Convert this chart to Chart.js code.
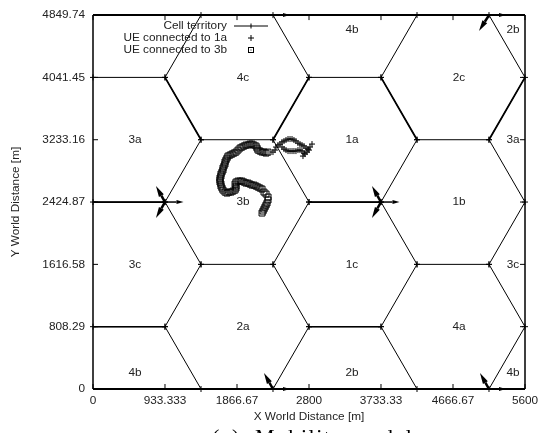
<!DOCTYPE html>
<html>
<head>
<meta charset="utf-8">
<title>Mobility model</title>
<script src="https://cdn.jsdelivr.net/npm/chart.js@4"></script>
<style>
html, body { margin: 0; padding: 0; background: #fff; overflow: hidden; }
</style>
</head>
<body>
<canvas id="chart" width="539" height="433"></canvas>
<script>
const xTicks = [0, 933.333, 1866.67, 2800, 3733.33, 4666.67, 5600];
const yTicks = [0, 808.29, 1616.58, 2424.87, 3233.16, 4041.45, 4849.74];

// cell borders, null breaks the line
const cellX = [
    0, 933.33, null, 2800, 3733.33, null,
    1400, 2333.33, null, 4200, 5133.33, null,
    0, 933.33, null, 2800, 3733.33, null,
    1400, 2333.33, null, 4200, 5133.33, null,
    0, 933.33, null, 2800, 3733.33, null,
    1400, 933.33, 1400, 933.33, 1400, 933.33, 1400, null,
    2333.33, 2800, 2333.33, 2800, 2333.33, 2800, 2333.33, null,
    4200, 3733.33, 4200, 3733.33, 4200, 3733.33, 4200, null,
    5133.33, 5600, 5133.33, 5600, 5133.33, 5600, 5133.33
];
const cellY = [
    808.29, 808.29, null, 808.29, 808.29, null,
    1616.58, 1616.58, null, 1616.58, 1616.58, null,
    2424.87, 2424.87, null, 2424.87, 2424.87, null,
    3233.16, 3233.16, null, 3233.16, 3233.16, null,
    4041.45, 4041.45, null, 4041.45, 4041.45, null,
    4849.74, 4041.45, 3233.16, 2424.87, 1616.58, 808.29, 0, null,
    4849.74, 4041.45, 3233.16, 2424.87, 1616.58, 808.29, 0, null,
    4849.74, 4041.45, 3233.16, 2424.87, 1616.58, 808.29, 0, null,
    4849.74, 4041.45, 3233.16, 2424.87, 1616.58, 808.29, 0
];

// heavier sector borders
const thickX = [0, 933.33, null, 2800, 3733.33, null, 933.33, 1400, null, 2800, 2333.33, null, 3733.33, 4200, null, 5600, 5133.33];
const thickY = [2424.87, 2424.87, null, 2424.87, 2424.87, null, 4041.45, 3233.16, null, 4041.45, 3233.16, null, 4041.45, 3233.16, null, 4041.45, 3233.16];
const mediumX = [0, 933.33, null, 2800, 3733.33];
const mediumY = [808.29, 808.29, null, 808.29, 808.29];

// UE track while connected to 3b
const ue3bX = [2191, 2204, 2217, 2230, 2243, 2256, 2269, 2269, 2243, 2217, 2191, 2165, 2139, 2113, 2087, 2061, 2035, 2009, 1983, 1957, 1931, 1906, 1880, 1854, 1841, 1854, 1854, 1841, 1815, 1789, 1763, 1737, 1711, 1685, 1672, 1659, 1659, 1646, 1646, 1646, 1659, 1659, 1672, 1685, 1685, 1698, 1711, 1711, 1724, 1737, 1750, 1776, 1802, 1828, 1854, 1880, 1906, 1931, 1957, 1983, 2009, 2035, 2061, 2087, 2113, 2126, 2139, 2165, 2191, 2217, 2243, 2269];
const ue3bY = [2282, 2308, 2334, 2360, 2386, 2412, 2451, 2490, 2529, 2554, 2593, 2606, 2619, 2632, 2645, 2645, 2658, 2671, 2671, 2684, 2697, 2697, 2697, 2684, 2658, 2632, 2606, 2580, 2567, 2554, 2554, 2541, 2554, 2580, 2606, 2632, 2658, 2684, 2710, 2736, 2762, 2788, 2814, 2840, 2866, 2892, 2918, 2944, 2970, 2995, 3021, 3034, 3047, 3060, 3073, 3099, 3125, 3138, 3151, 3164, 3164, 3177, 3177, 3164, 3151, 3125, 3099, 3086, 3073, 3073, 3060, 3073];

// UE track while connected to 1a
const ue1aX = [2333, 2359, 2372, 2398, 2424, 2450, 2476, 2502, 2528, 2554, 2580, 2605, 2631, 2657, 2683, 2709, 2735, 2761, 2787, 2813, 2839, 2800, 2774, 2748, 2722, 2735, 2709, 2683, 2657, 2631, 2605, 2580, 2554, 2528, 2502, 2476, 2450];
const ue1aY = [3073, 3099, 3138, 3164, 3177, 3203, 3216, 3229, 3242, 3242, 3242, 3229, 3216, 3190, 3177, 3164, 3151, 3125, 3112, 3138, 3177, 3099, 3073, 3047, 3021, 3060, 3086, 3099, 3099, 3086, 3086, 3086, 3086, 3086, 3099, 3112, 3138];

const cellNames = ['3a', '3c', '4b', '4c', '3b', '2a', '4b', '1a', '1c', '2b', '2c', '1b', '4a', '2b', '3a', '3c', '4b'];
const cellNameX = [544, 544, 544, 1944, 1944, 1944, 3357, 3357, 3357, 3357, 4744, 4744, 4744, 5444, 5444, 5444, 5444];
const cellNameY = [3233, 1616, 207, 4041, 2425, 808, 4655, 3233, 1616, 207, 4041, 2425, 808, 4655, 3233, 1616, 207];

// antenna directions: start and offset in world metres
const arrowX = [933.33, 933.33, 933.33, 3733.33, 3733.33, 3733.33, 2333.33, 5133.33, 5133.33, 2333.33, 2333.33, 5133.33, 5133.33];
const arrowY = [2424.87, 2424.87, 2424.87, 2424.87, 2424.87, 2424.87, 4849.74, 4849.74, 4849.74, 0, 0, 0, 0];
const arrowDX = [240, -117, -117, 240, -117, -117, 220, 220, -130, 220, -117, 220, -117];
const arrowDY = [0, 207, -207, 0, 207, -207, 0, 0, -207, 0, 207, 0, 207];

const legendLabels = ['Cell territory', 'UE connected to 1a', 'UE connected to 3b'];
const caption = '(a)  Mobility model';

const labelFont = '11.8px "Liberation Sans"';

function toPoints(xs, ys) {
    return xs.map((x, i) => (x === null ? { x: NaN, y: NaN } : { x: x, y: ys[i] }));
}

function drawArrow(ctx, x1, y1, x2, y2) {
    const flat = y1 === y2;
    const angle = Math.atan2(y2 - y1, x2 - x1);
    const headLen = flat ? 7 : 11;
    const headWide = flat ? 2 : 2.8;
    const baseX = x2 - headLen * Math.cos(angle);
    const baseY = y2 - headLen * Math.sin(angle);
    ctx.lineWidth = flat ? 1.5 : 2.5;
    ctx.beginPath();
    ctx.moveTo(x1, y1);
    ctx.lineTo(baseX, baseY);
    ctx.stroke();
    ctx.beginPath();
    ctx.moveTo(x2, y2);
    ctx.lineTo(baseX - headWide * Math.sin(angle), baseY + headWide * Math.cos(angle));
    ctx.lineTo(baseX + headWide * Math.sin(angle), baseY - headWide * Math.cos(angle));
    ctx.closePath();
    ctx.fill();
}

// frame, inward ticks, cell names, arrows, legend and caption
const decorations = {
    id: 'decorations',
    afterDraw(chart) {
        const ctx = chart.ctx;
        const area = chart.chartArea;
        const sx = chart.scales.x;
        const sy = chart.scales.y;
        ctx.save();
        ctx.strokeStyle = '#000';
        ctx.fillStyle = '#000';

        ctx.lineWidth = 1;
        ctx.beginPath();
        xTicks.forEach(t => {
            const px = sx.getPixelForValue(t);
            ctx.moveTo(px, area.bottom);
            ctx.lineTo(px, area.bottom - 5);
            ctx.moveTo(px, area.top);
            ctx.lineTo(px, area.top + 5);
        });
        yTicks.forEach(t => {
            const py = sy.getPixelForValue(t);
            ctx.moveTo(area.left, py);
            ctx.lineTo(area.left + 5, py);
            ctx.moveTo(area.right, py);
            ctx.lineTo(area.right - 5, py);
        });
        ctx.stroke();

        ctx.lineWidth = 2;
        ctx.beginPath();
        ctx.moveTo(area.left, area.top);
        ctx.lineTo(area.right, area.top);
        ctx.moveTo(area.left, area.bottom);
        ctx.lineTo(area.right, area.bottom);
        ctx.stroke();
        ctx.lineWidth = 1.5;
        ctx.beginPath();
        ctx.moveTo(area.left, area.top);
        ctx.lineTo(area.left, area.bottom);
        ctx.moveTo(area.right, area.top);
        ctx.lineTo(area.right, area.bottom);
        ctx.stroke();

        arrowX.forEach((x, i) => {
            drawArrow(ctx,
                sx.getPixelForValue(x), sy.getPixelForValue(arrowY[i]),
                sx.getPixelForValue(x + arrowDX[i]), sy.getPixelForValue(arrowY[i] + arrowDY[i]));
        });

        ctx.fillStyle = '#222';
        ctx.font = labelFont;
        ctx.textAlign = 'center';
        ctx.textBaseline = 'middle';
        cellNames.forEach((name, i) => {
            ctx.fillText(name, sx.getPixelForValue(cellNameX[i]), sy.getPixelForValue(cellNameY[i]));
        });

        // legend
        const rowY = [26, 38, 50];
        ctx.textAlign = 'right';
        legendLabels.forEach((label, i) => {
            ctx.fillText(label, 227, rowY[i]);
        });
        ctx.strokeStyle = '#000';
        ctx.lineWidth = 1;
        ctx.beginPath();
        ctx.moveTo(234, rowY[0]);
        ctx.lineTo(268, rowY[0]);
        ctx.moveTo(251, rowY[0] - 2.5);
        ctx.lineTo(251, rowY[0] + 2.5);
        ctx.moveTo(248, rowY[1]);
        ctx.lineTo(254, rowY[1]);
        ctx.moveTo(251, rowY[1] - 3);
        ctx.lineTo(251, rowY[1] + 3);
        ctx.stroke();
        ctx.strokeRect(248.5, rowY[2] - 2.5, 5, 5);
        ctx.fillStyle = '#000';
        ctx.fillRect(250.5, rowY[2] - 0.5, 1, 1);

        // caption, cut off by the bottom edge as in the source
        ctx.font = '22px "Liberation Serif"';
        ctx.letterSpacing = '1.5px';
        ctx.textAlign = 'left';
        ctx.textBaseline = 'alphabetic';
        ctx.fillText(caption, 212, 444);
        ctx.restore();
    }
};

new Chart(document.getElementById('chart'), {
    type: 'scatter',
    data: {
        datasets: [
            {
                label: 'Cell territory',
                data: toPoints(cellX, cellY),
                showLine: true,
                spanGaps: false,
                borderColor: '#000',
                borderWidth: 1,
                pointStyle: 'cross',
                pointRadius: 3,
                pointBorderColor: '#000',
                pointBorderWidth: 1,
                clip: false
            },
            {
                label: 'Sector borders',
                data: toPoints(thickX, thickY),
                showLine: true,
                spanGaps: false,
                borderColor: '#000',
                borderWidth: 1.8,
                pointRadius: 0,
                clip: false
            },
            {
                label: 'Sector borders medium',
                data: toPoints(mediumX, mediumY),
                showLine: true,
                spanGaps: false,
                borderColor: '#000',
                borderWidth: 1.5,
                pointRadius: 0,
                clip: false
            },
            {
                label: 'UE connected to 1a',
                data: toPoints(ue1aX, ue1aY),
                pointStyle: 'cross',
                pointRadius: 3,
                pointBorderColor: '#000',
                pointBorderWidth: 1
            },
            {
                label: 'UE connected to 3b',
                data: toPoints(ue3bX, ue3bY),
                pointStyle: 'rect',
                pointRadius: 4.2,
                pointBackgroundColor: 'rgba(0,0,0,0)',
                pointBorderColor: '#000',
                pointBorderWidth: 1
            }
        ]
    },
    options: {
        responsive: false,
        animation: false,
        layout: { autoPadding: false, padding: { top: 15, right: 14, left: 0, bottom: 0 } },
        plugins: {
            legend: { display: false },
            tooltip: { enabled: false }
        },
        scales: {
            x: {
                type: 'linear',
                min: 0,
                max: 5600,
                afterBuildTicks: scale => { scale.ticks = xTicks.map(v => ({ value: v })); },
                // end labels may hang past the plot, so no extra side padding
                afterFit: scale => {
                    scale.height = 44;
                    scale.paddingLeft = 0;
                    scale.paddingRight = 0;
                },
                ticks: {
                    autoSkip: false,
                    maxRotation: 0,
                    padding: 5,
                    color: '#222',
                    font: { family: 'Liberation Sans', size: 11.8 },
                    callback: value => String(value)
                },
                grid: { display: false, drawTicks: false },
                border: { display: false },
                title: {
                    display: true,
                    text: 'X World Distance [m]',
                    color: '#222',
                    font: { family: 'Liberation Sans', size: 11.8 },
                    padding: { top: 0, bottom: 9 }
                }
            },
            y: {
                type: 'linear',
                min: 0,
                max: 4849.74,
                afterBuildTicks: scale => { scale.ticks = yTicks.map(v => ({ value: v })); },
                afterFit: scale => { scale.width = 93; },
                ticks: {
                    autoSkip: false,
                    padding: 8,
                    color: '#222',
                    font: { family: 'Liberation Sans', size: 11.8 },
                    callback: value => String(value)
                },
                grid: { display: false, drawTicks: false },
                border: { display: false },
                title: {
                    display: true,
                    text: 'Y World Distance [m]',
                    color: '#222',
                    font: { family: 'Liberation Sans', size: 11.8 },
                    padding: { top: 9, bottom: 0 }
                }
            }
        }
    },
    plugins: [decorations]
});
</script>
</body>
</html>
